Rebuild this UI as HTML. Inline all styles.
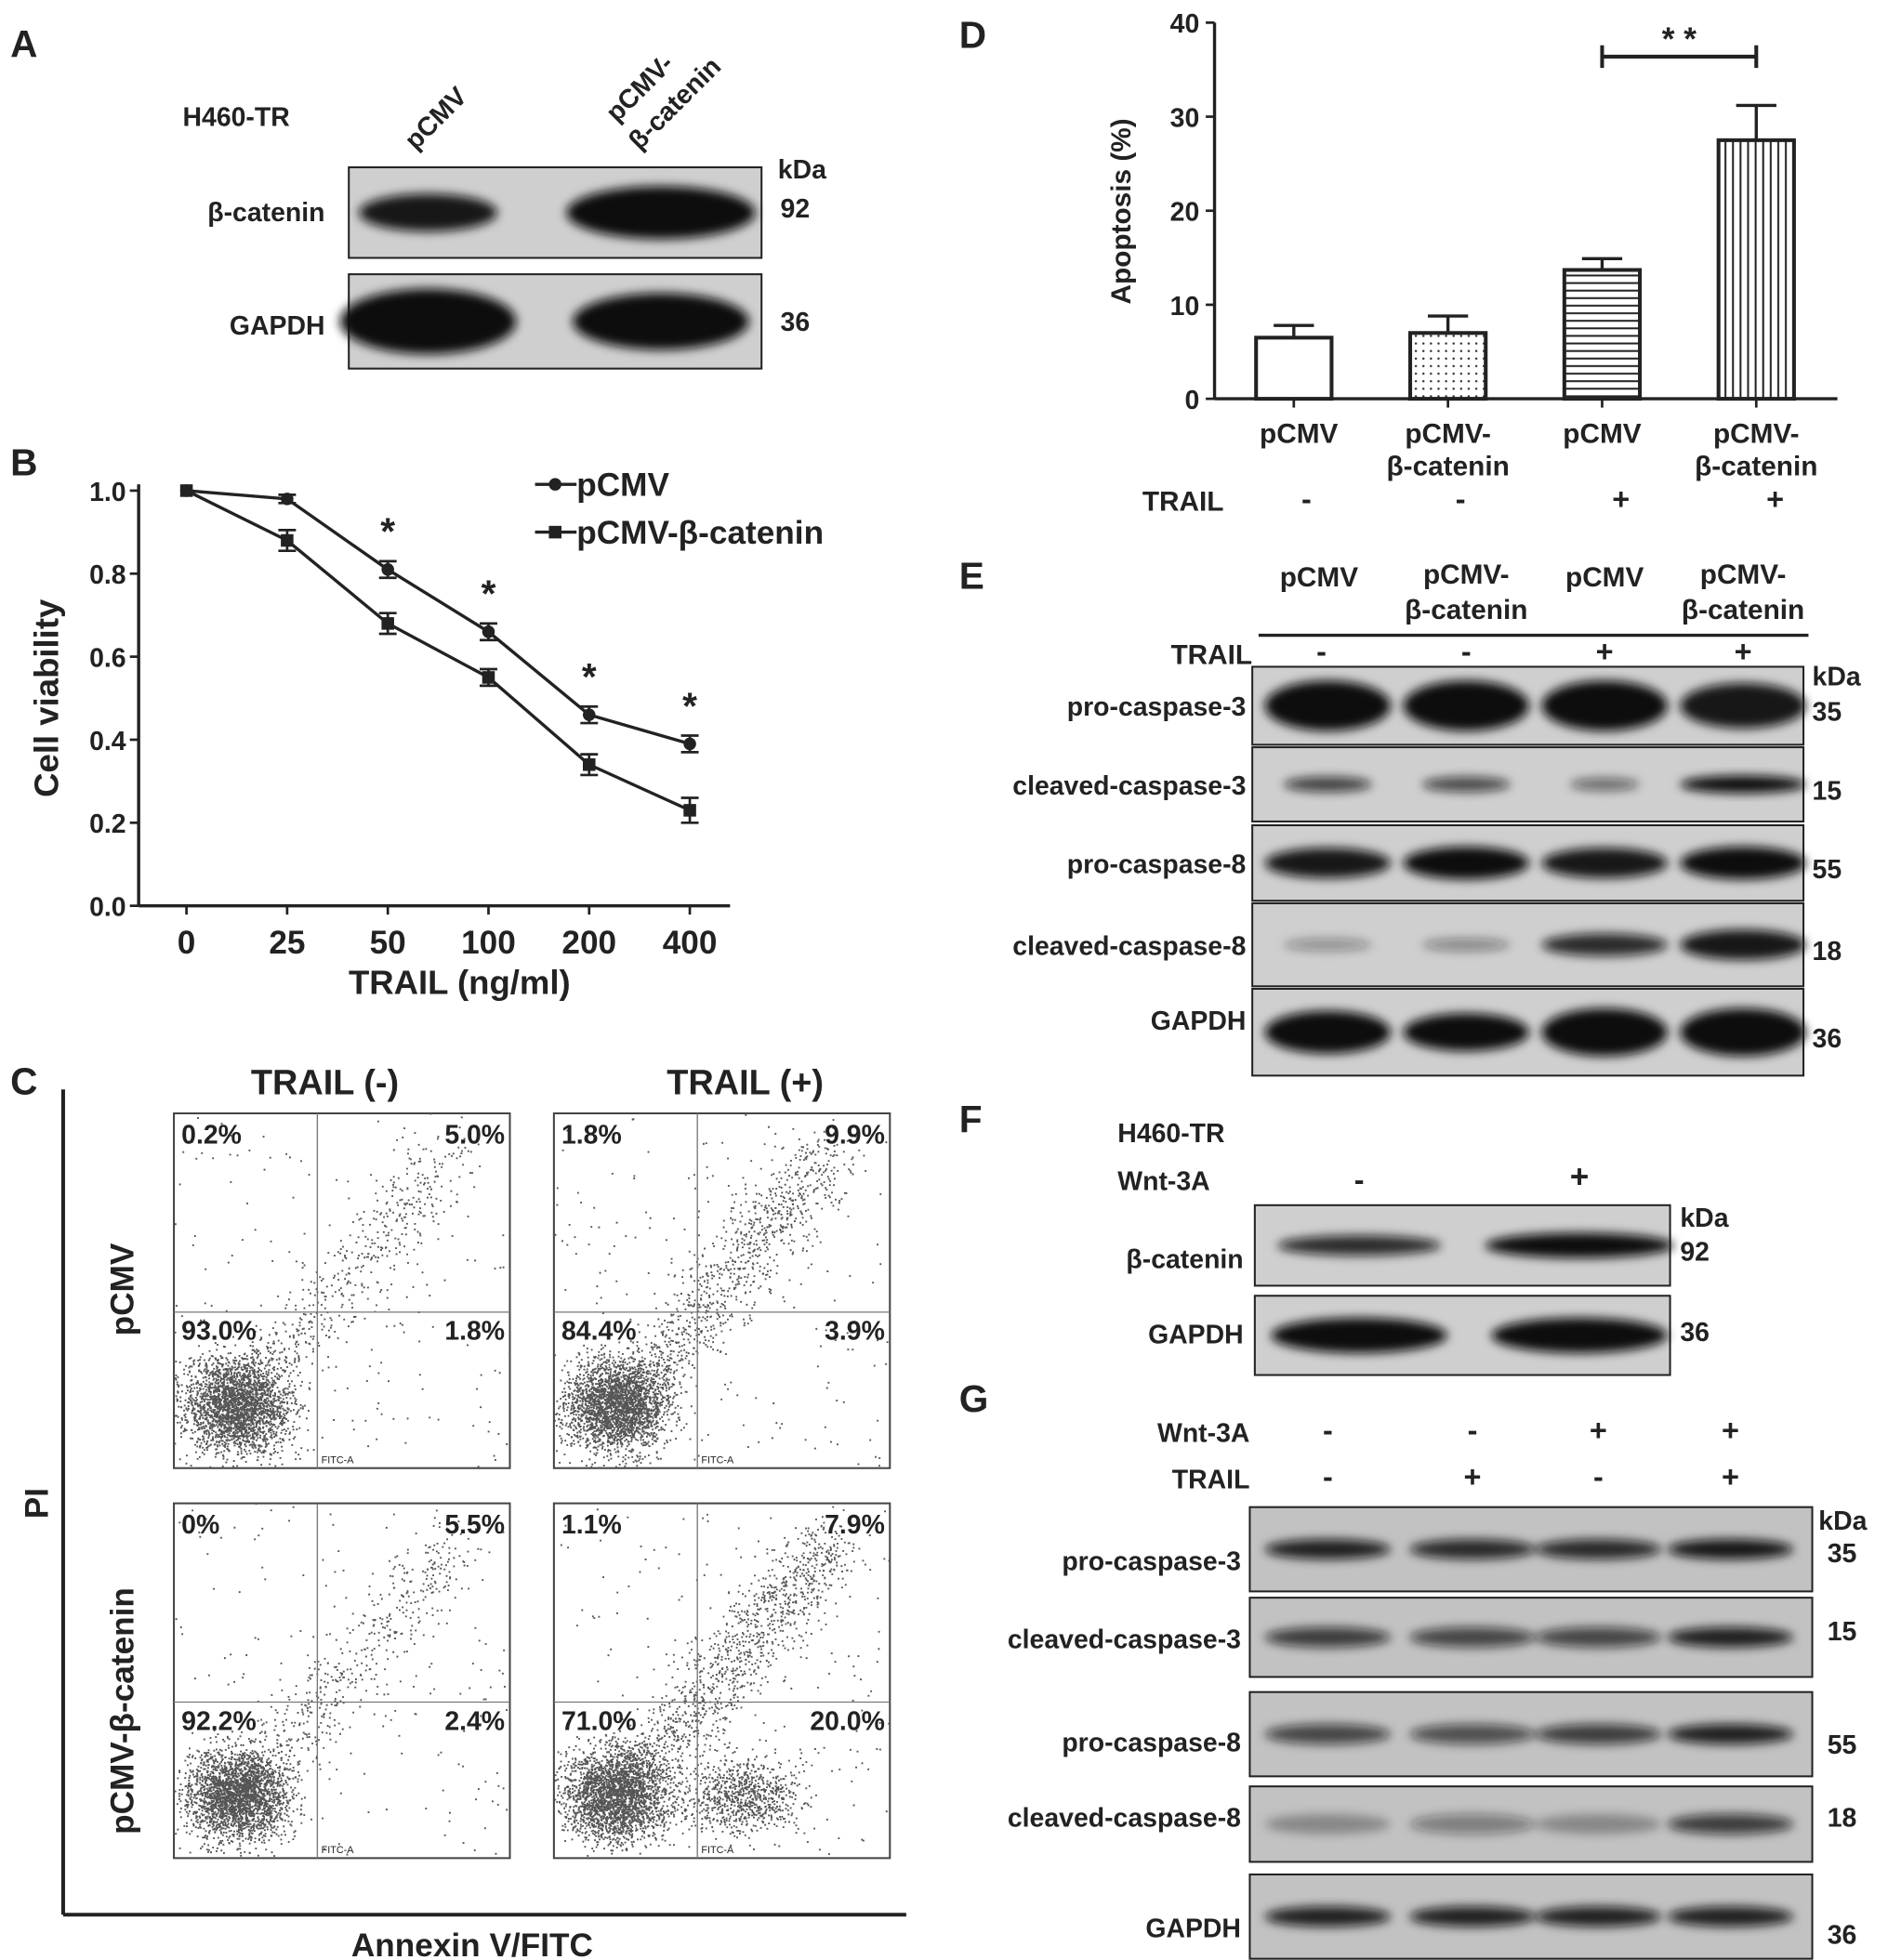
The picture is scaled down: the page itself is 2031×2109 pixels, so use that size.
<!DOCTYPE html>
<html><head><meta charset="utf-8">
<style>
html,body{margin:0;padding:0;background:#fff;}
svg{display:block;}
text{font-family:"Liberation Sans",Arial,sans-serif;font-weight:bold;fill:#222;}
</style></head>
<body>
<svg id="fig" width="2031" height="2109" viewBox="0 0 1500 1558" xmlns="http://www.w3.org/2000/svg">
<defs>
<filter id="blur" x="-20%" y="-50%" width="140%" height="200%"><feGaussianBlur stdDeviation="4"/></filter>
<pattern id="dots" width="6" height="6" patternUnits="userSpaceOnUse"><circle cx="3" cy="3" r="0.9" fill="#333"/></pattern>
<pattern id="hlines" width="6" height="6" patternUnits="userSpaceOnUse"><line x1="0" y1="3" x2="6" y2="3" stroke="#222" stroke-width="1.5"/></pattern>
<pattern id="vlines" width="6" height="6" patternUnits="userSpaceOnUse"><line x1="3" y1="0" x2="3" y2="6" stroke="#222" stroke-width="1.5"/></pattern>
</defs>
<g id="root"></g>
</svg>
<script>
// ---- Panel B data ----
const bCategories = ["0","25","50","100","200","400"];
const bSeriesPCMV = [1.0,0.98,0.81,0.66,0.46,0.39];
const bSeriesBcat = [1.0,0.88,0.68,0.55,0.34,0.23];
const bErrPCMV = [0.0,0.01,0.02,0.02,0.02,0.02];
const bErrBcat = [0.0,0.025,0.025,0.02,0.025,0.03];
const bSig = [false,false,true,true,true,true];
const bYTicks = [0,0.2,0.4,0.6,0.8,1.0];
// ---- Panel D data ----
const dCategories = [["pCMV"],["pCMV-","β-catenin"],["pCMV"],["pCMV-","β-catenin"]];
const dValues = [6.5,7.0,13.7,27.5];
const dErrors = [1.3,1.8,1.2,3.7];
const dTrail = ["-","-","+","+"];
const dYTicks = [0,10,20,30,40];
const dFills = ["#fff","url(#dots)","url(#hlines)","url(#vlines)"];
// ---- Panel C data ----
const cPercents = [
 ["0.2%","5.0%","93.0%","1.8%"],
 ["1.8%","9.9%","84.4%","3.9%"],
 ["0%","5.5%","92.2%","2.4%"],
 ["1.1%","7.9%","71.0%","20.0%"]];

const NS="http://www.w3.org/2000/svg";
const root=document.getElementById('root');
function el(tag,attrs,parent,txt){const e=document.createElementNS(NS,tag);for(const k in attrs)e.setAttribute(k,attrs[k]);if(txt!==undefined)e.textContent=txt;(parent||root).appendChild(e);return e;}
function T(x,y,s,size,anchor,name,extra){const e=el('text',Object.assign({x:x,y:y,'font-size':size||22,'text-anchor':anchor||'start'},extra||{}),null,s);


return e;}

[["A",8,45],["B",8,378],["C",8,870],["D",762,38],["E",762,468],["F",762,900],["G",762,1122]].forEach(p=>{T(p[1],p[2],p[0],30,'start','panel-letter-'+p[0].toLowerCase());});

function blot(x,y,w,h,lanes,name,bg){
  const g=el('g',{});
  
  
  el('rect',{x:x,y:y,width:w,height:h,fill:bg||'#cfcfcf',stroke:'#222','stroke-width':1.5},g);
  const cg=el('g',{filter:'url(#blur)'},g);
  lanes.forEach(l=>{el('ellipse',{cx:l[0],cy:y+h/2+(l[4]||0),rx:l[1]/2,ry:l[2]/2,fill:'#111','fill-opacity':l[3]},cg);});
  return g;
}
// ---- Panel A ----
T(145,100,"H460-TR",21,'start','a-cell-line');
T(330,120,"pCMV",21,'start','a-lane1',{transform:'rotate(-45 330 120)'});
T(490,98,"pCMV-",21,'start','a-lane2a',{transform:'rotate(-45 490 98)'});
T(508,120,"β-catenin",21,'start','a-lane2b',{transform:'rotate(-45 508 120)'});
blot(277,133,328,72,[[340,110,30,0.95],[525,150,42,1]],'a-blot-bcatenin');
blot(277,218,328,75,[[340,140,52,1],[525,140,45,1]],'a-blot-gapdh');
T(258,176,"β-catenin",21,'end','a-label-bcatenin');
T(258,266,"GAPDH",21,'end','a-label-gapdh');
T(618,142,"kDa",21,'start','a-kda');T(620,173,"92",21,'start','a-92');T(620,263,"36",21,'start','a-36');

// ---- Panel B ----
const bx0=110,bx1=580,by0=720,by1=390;
function bX(i){return 148+i*80;}
function bY(v){return by0-(v/1.0)*(by0-by1);}
el('line',{x1:bx0,y1:by0,x2:bx1,y2:by0,stroke:'#222','stroke-width':2.5});
el('line',{x1:bx0,y1:by0,x2:bx0,y2:by1-5,stroke:'#222','stroke-width':2.5});
bYTicks.forEach(t=>{el('line',{x1:bx0-7,y1:bY(t),x2:bx0,y2:bY(t),stroke:'#222','stroke-width':2});T(bx0-10,bY(t)+8,t.toFixed(1),21,'end','b-ytick');});
bCategories.forEach((c,i)=>{const x=bX(i);el('line',{x1:x,y1:by0,x2:x,y2:by0+7,stroke:'#222','stroke-width':2});T(x,by0+38,c,26,'middle','b-xtick');});
T(365,790,"TRAIL (ng/ml)",27,'middle','b-x-title');
T(46,555,"Cell viability",27,'middle','b-y-title',{transform:'rotate(-90 46 555)'});
function series(vals,errs,marker,name){
  const pts=vals.map((v,i)=>[bX(i),bY(v)]);
  const p=el('polyline',{points:pts.map(p=>p.join(',')).join(' '),fill:'none',stroke:'#222','stroke-width':2.5});
  
  
  pts.forEach((pt,i)=>{
    const e=errs[i]*(by0-by1);
    if(e>0){el('line',{x1:pt[0],y1:pt[1]-e,x2:pt[0],y2:pt[1]+e,stroke:'#222','stroke-width':2});
      el('line',{x1:pt[0]-7,y1:pt[1]-e,x2:pt[0]+7,y2:pt[1]-e,stroke:'#222','stroke-width':2});
      el('line',{x1:pt[0]-7,y1:pt[1]+e,x2:pt[0]+7,y2:pt[1]+e,stroke:'#222','stroke-width':2});}
    const m=marker==='c'?el('circle',{cx:pt[0],cy:pt[1],r:5,fill:'#222'}):el('rect',{x:pt[0]-5,y:pt[1]-5,width:10,height:10,fill:'#222'});
    
    
  });
}
series(bSeriesPCMV,bErrPCMV,'c','b-pcmv');
series(bSeriesBcat,bErrBcat,'s','b-bcat');
bSig.forEach((s,i)=>{if(s)T(bX(i),bY(bSeriesPCMV[i])-20,"*",30,'middle','b-sig-star');});
el('line',{x1:425,y1:385,x2:458,y2:385,stroke:'#222','stroke-width':2.5});el('circle',{cx:441,cy:385,r:5,fill:'#222'});
T(458,394,"pCMV",26,'start','b-legend-pcmv');
el('line',{x1:425,y1:423,x2:458,y2:423,stroke:'#222','stroke-width':2.5});el('rect',{x:436,y:418,width:10,height:10,fill:'#222'});
T(458,432,"pCMV-β-catenin",26,'start','b-legend-bcat');

// ---- Panel C ----
T(258,870,"TRAIL (-)",28,'middle','c-header-neg');
T(592,870,"TRAIL (+)",28,'middle','c-header-pos');
el('line',{x1:50,y1:866,x2:50,y2:1522,stroke:'#222','stroke-width':3});
el('line',{x1:50,y1:1522,x2:720,y2:1522,stroke:'#222','stroke-width':3});
T(375,1555,"Annexin V/FITC",26,'middle','c-x-title');
T(38,1195,"PI",26,'middle','c-y-title',{transform:'rotate(-90 38 1195)'});
T(106,1025,"pCMV",26,'middle','c-row1',{transform:'rotate(-90 106 1025)'});
T(106,1360,"pCMV-β-catenin",26,'middle','c-row2',{transform:'rotate(-90 106 1360)'});
let seed=12345;function rnd(){seed=(seed*16807)%2147483647;return seed/2147483647;}
function gauss(){return (rnd()+rnd()+rnd()+rnd()-2)/1.15;}
const boxes=[[138,885],[440,885],[138,1195],[440,1195]];
boxes.forEach((b,k)=>{
  const [x,y]=b,w=267,h=282;
  const g=el('g',{});
  
  
  el('rect',{x:x,y:y,width:w,height:h,fill:'#fff',stroke:'#444','stroke-width':1.5},g);
  let d='';
  const nMain=2600;
  for(let i=0;i<nMain;i++){const px=x+50+gauss()*40,py=y+h-50+gauss()*36;if(px>x&&px<x+w&&py>y&&py<y+h)d+='M'+px.toFixed(1)+' '+py.toFixed(1)+'h1.4';}
  const nTail=[450,900,450,1100][k];
  for(let i=0;i<nTail;i++){const t=rnd();const px=x+70+t*150+gauss()*30,py=y+h-70-t*180+gauss()*30;if(px>x&&px<x+w&&py>y&&py<y+h)d+='M'+px.toFixed(1)+' '+py.toFixed(1)+'h1.4';}
  if(k===3){for(let i=0;i<800;i++){const px=x+150+gauss()*45,py=y+h-50+gauss()*28;if(px>x&&px<x+w&&py>y&&py<y+h)d+='M'+px.toFixed(1)+' '+py.toFixed(1)+'h1.4';}}
  for(let i=0;i<200;i++){const px=x+rnd()*w,py=y+rnd()*h;d+='M'+px.toFixed(1)+' '+py.toFixed(1)+'h1.4';}
  el('path',{d:d,stroke:'#555','stroke-width':1.4,fill:'none'},g);
  el('line',{x1:x+114,y1:y,x2:x+114,y2:y+h,stroke:'#777','stroke-width':1},g);
  el('line',{x1:x,y1:y+158,x2:x+w,y2:y+158,stroke:'#777','stroke-width':1},g);
  const p=cPercents[k];
  T(x+6,y+24,p[0],21,'start','c-q1');T(x+w-4,y+24,p[1],21,'end','c-q2');
  T(x+6,y+180,p[2],21,'start','c-q3');T(x+w-4,y+180,p[3],21,'end','c-q4');
  T(x+130,y+h-4,"FITC-A",8,'middle','c-axis-lbl',{style:'font-weight:normal'});
});

// ---- Panel D ----
const dx0=965,dx1=1460,dy0=317,dyTop=18;
function dY(v){return dy0-(v/40)*(dy0-dyTop);}
function dX(i){return 1028+i*122.5;}
el('line',{x1:dx0,y1:dyTop,x2:dx0,y2:dy0,stroke:'#222','stroke-width':2.5});
el('line',{x1:dx0,y1:dy0,x2:dx1,y2:dy0,stroke:'#222','stroke-width':2.5});
dYTicks.forEach(t=>{el('line',{x1:dx0-7,y1:dY(t),x2:dx0,y2:dY(t),stroke:'#222','stroke-width':2});T(dx0-12,dY(t)+8,String(t),21,'end','d-ytick');});
T(898,168,"Apoptosis (%)",22,'middle','d-y-title',{transform:'rotate(-90 898 168)'});
dValues.forEach((v,i)=>{
  const cx=dX(i),bw=60;
  const e=dErrors[i];
  el('line',{x1:cx,y1:dY(v+e),x2:cx,y2:dY(v),stroke:'#222','stroke-width':2.5});
  el('line',{x1:cx-16,y1:dY(v+e),x2:cx+16,y2:dY(v+e),stroke:'#222','stroke-width':2.5});
  const r=el('rect',{x:cx-bw/2,y:dY(v),width:bw,height:dy0-dY(v),fill:dFills[i],stroke:'#222','stroke-width':3});
  
  
  el('line',{x1:cx,y1:dy0,x2:cx,y2:dy0+7,stroke:'#222','stroke-width':2});
  dCategories[i].forEach((s,j)=>T(cx+(i==0?4:0),352+j*26,s,22,'middle','d-xtick'));
  T(cx+(i<2?10:15),405,dTrail[i],24,'middle','d-trail-sign');
});
T(940,406,"TRAIL",22,'middle','d-trail-label');
el('line',{x1:dX(2),y1:45,x2:dX(3),y2:45,stroke:'#222','stroke-width':3});
el('line',{x1:dX(2),y1:36,x2:dX(2),y2:54,stroke:'#222','stroke-width':3});
el('line',{x1:dX(3),y1:36,x2:dX(3),y2:54,stroke:'#222','stroke-width':3});
T((dX(2)+dX(3))/2,40,"* *",26,'middle','d-sig');

// ---- Panel E ----
const eL=[1055,1165,1275,1385];
T(1048,466,"pCMV",22,'middle','e-lane1');T(1165,464,"pCMV-",22,'middle','e-lane2a');T(1165,492,"β-catenin",22,'middle','e-lane2b');
T(1275,466,"pCMV",22,'middle','e-lane3');T(1385,464,"pCMV-",22,'middle','e-lane4a');T(1385,492,"β-catenin",22,'middle','e-lane4b');
el('line',{x1:1000,y1:505,x2:1437,y2:505,stroke:'#222','stroke-width':2.5});
T(995,528,"TRAIL",22,'end','e-trail');
["-","-","+","+"].forEach((s,i)=>T(eL[i]+(i==0?-5:0),526,s,24,'middle','e-trail-sign'));
const eRows=[
 [530,62,"pro-caspase-3","35",[[1,40,1],[1,40,1],[1,40,1],[1,36,0.95]]],
 [594,59,"cleaved-caspase-3","15",[[0.7,12,0.75],[0.7,12,0.7],[0.55,10,0.55],[1,14,1]]],
 [656,60,"pro-caspase-8","55",[[1,24,0.95],[1,26,1],[1,24,0.95],[1,26,1]]],
 [718,66,"cleaved-caspase-8","18",[[0.7,10,0.35],[0.7,10,0.4],[1,18,0.85],[1,24,0.95]]],
 [786,69,"GAPDH","36",[[1,34,1],[1,30,1],[1,38,1],[1,38,1]]]];
eRows.forEach((r,k)=>{blot(995,r[0],438,r[1],r[4].map((l,i)=>[eL[i],l[0]*100,l[1],l[2]]),'e-blot-'+r[2]);
 T(990,r[0]+r[1]/2+(k==4?-2:8),r[2],21,'end','e-label');T(1440,r[0]+r[1]/2+12,r[3],21,'start','e-kda-val');});
T(1440,545,"kDa",21,'start','e-kda');

// ---- Panel F ----
T(888,908,"H460-TR",21,'start','f-cell-line');T(888,946,"Wnt-3A",21,'start','f-wnt');
T(1080,946,"-",24,'middle','f-sign1');T(1255,944,"+",26,'middle','f-sign2');
blot(997,958,330,64,[[1080,130,16,0.85],[1255,150,20,1]],'f-blot-bcatenin');
blot(997,1030,330,63,[[1080,140,28,1],[1255,140,28,1]],'f-blot-gapdh');
T(988,1008,"β-catenin",21,'end','f-label-bcatenin');T(988,1068,"GAPDH",21,'end','f-label-gapdh');
T(1335,975,"kDa",21,'start','f-kda');T(1335,1002,"92",21,'start','f-92');T(1335,1066,"36",21,'start','f-36');

// ---- Panel G ----
const gL=[1055,1170,1270,1375];
T(993,1146,"Wnt-3A",21,'end','g-wnt');T(993,1183,"TRAIL",21,'end','g-trail');
["-","-","+","+"].forEach((s,i)=>T(gL[i],1145,s,24,'middle','g-wnt-sign'));
["-","+","-","+"].forEach((s,i)=>T(gL[i],1182,s,24,'middle','g-trail-sign'));
const gRows=[
 [1198,67,"pro-caspase-3","35",[0.9,0.85,0.85,0.95],1248,1242],
 [1270,63,"cleaved-caspase-3","15",[0.75,0.7,0.7,0.9],1310,1304],
 [1345,67,"pro-caspase-8","55",[0.7,0.65,0.75,0.9],1392,1394],
 [1420,60,"cleaved-caspase-8","18",[0.3,0.4,0.3,0.75],1452,1452],
 [1490,67,"GAPDH","36",[0.9,0.9,0.9,0.9],1540,1545]];
gRows.forEach(r=>{blot(993,r[0],447,r[1],r[4].map((o,i)=>[gL[i],100,16,o]),'g-blot-'+r[2],'#c2c2c2');
 T(986,r[5],r[2],21,'end','g-label');T(1452,r[6],r[3],21,'start','g-kda-val');});
T(1445,1216,"kDa",21,'start','g-kda');
</script>
</body></html>
